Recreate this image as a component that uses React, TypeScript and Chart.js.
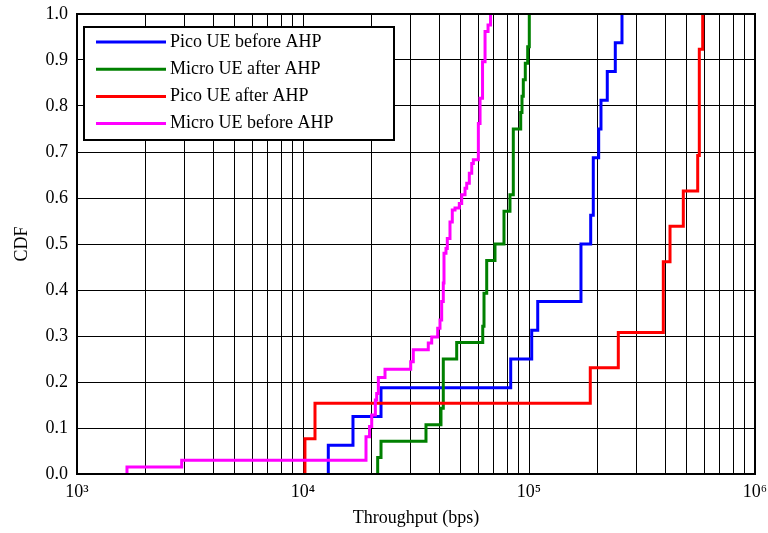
import React, { useEffect, useRef } from 'react';
import { Chart, registerables } from 'chart.js';

Chart.register(...registerables);

// ---- data ----
const seriesLabels = ['Pico UE before AHP', 'Micro UE after AHP', 'Pico UE after AHP', 'Micro UE before AHP'];
const seriesColors = ['#0000ff', '#008000', '#ff0000', '#ff00ff'];

const picoBeforeX = [12940, 12940, 16640, 22140, 82990, 102800, 109300, 169800, 187500, 192500, 203400, 208200, 222000, 240900, 257900];
const picoBeforeY = [0, 0.0625, 0.125, 0.1875, 0.25, 0.3125, 0.375, 0.5, 0.5625, 0.6875, 0.75, 0.8125, 0.875, 0.9375, 1.0];

const microAfterX = [21400, 21400, 22140, 35010, 40790, 41760, 47870, 62420, 63230, 64990, 70720, 77510, 82380, 85220, 91900, 93110, 94360, 96300, 98680, 100300];
const microAfterY = [0, 0.0357, 0.0714, 0.1071, 0.1429, 0.25, 0.2857, 0.3214, 0.3929, 0.4643, 0.5, 0.5714, 0.6071, 0.75, 0.7857, 0.8214, 0.8571, 0.8929, 0.9286, 1.0];

const picoAfterX = [10200, 10200, 11300, 186700, 248400, 392900, 420700, 481700, 557800, 567000, 586900];
const picoAfterY = [0, 0.0769, 0.1538, 0.2308, 0.3077, 0.4615, 0.5385, 0.6154, 0.6923, 0.9231, 1.0];

const microBeforeX = [1664, 1664, 2906, 19000, 19700, 20140, 20900, 21190, 21550, 23060, 29960, 30760, 35840, 37110, 39450, 40380, 41080, 41760, 42060, 42920, 43500, 44710, 45770, 47050, 49160, 50380, 52110, 53020, 54440, 55800, 56710, 59690, 60730, 62290, 63900, 65880, 67570];
const microBeforeY = [0, 0.015, 0.03, 0.081, 0.103, 0.128, 0.161, 0.175, 0.21, 0.2275, 0.244, 0.27, 0.285, 0.298, 0.317, 0.335, 0.375, 0.415, 0.48, 0.49, 0.512, 0.548, 0.574, 0.578, 0.588, 0.607, 0.621, 0.632, 0.654, 0.675, 0.683, 0.762, 0.817, 0.896, 0.962, 0.976, 1.0];

const xMajorTicks = [1e3, 1e4, 1e5, 1e6];
const xMajorLabels = ['10\u00b3', '10\u2074', '10\u2075', '10\u2076'];
const xMinorMultipliers = [2, 3, 4, 5, 6, 7, 8, 9];
const yTickValues = [0, 0.1, 0.2, 0.3, 0.4, 0.5, 0.6, 0.7, 0.8, 0.9, 1.0];
const xTitle = 'Throughput (bps)';
const yTitle = 'CDF';

const FONT = "'Liberation Serif', 'Times New Roman', serif";

const seriesX = [picoBeforeX, microAfterX, picoAfterX, microBeforeX];
const seriesY = [picoBeforeY, microAfterY, picoAfterY, microBeforeY];

function buildXTicks(): number[] {
  const out: number[] = [];
  for (let i = 0; i < xMajorTicks.length; i++) {
    out.push(xMajorTicks[i]);
    if (i < xMajorTicks.length - 1) {
      for (const m of xMinorMultipliers) out.push(m * xMajorTicks[i]);
    }
  }
  return out;
}

const frameAndLegend = {
  id: 'frameAndLegend',
  afterDraw(chart: any) {
    const { ctx, chartArea } = chart;
    ctx.save();
    // plot frame
    ctx.strokeStyle = '#000';
    ctx.lineWidth = 2;
    ctx.strokeRect(chartArea.left, chartArea.top, chartArea.right - chartArea.left, chartArea.bottom - chartArea.top);
    // legend box
    const x0 = chartArea.left + 7;
    const y0 = chartArea.top + 13;
    const w = 310;
    const h = 113;
    ctx.fillStyle = '#fff';
    ctx.fillRect(x0, y0, w, h);
    ctx.strokeRect(x0, y0, w, h);
    ctx.font = `18px ${FONT}`;
    ctx.textBaseline = 'middle';
    ctx.textAlign = 'left';
    chart.data.datasets.forEach((ds: any, i: number) => {
      const y = y0 + 15 + i * 27.2;
      ctx.strokeStyle = ds.borderColor;
      ctx.lineWidth = 3;
      ctx.beginPath();
      ctx.moveTo(x0 + 12, y);
      ctx.lineTo(x0 + 82, y);
      ctx.stroke();
      ctx.fillStyle = '#000';
      ctx.fillText(ds.label, x0 + 86, y);
    });
    ctx.restore();
  },
};

export default function App() {
  const ref = useRef<HTMLCanvasElement>(null);
  useEffect(() => {
    if (!ref.current) return;
    const datasets = seriesLabels.map((label, i) => ({
      label,
      data: seriesX[i].map((x, j) => ({ x, y: seriesY[i][j] })),
      borderColor: seriesColors[i],
      backgroundColor: seriesColors[i],
      borderWidth: 3,
      pointRadius: 0,
      showLine: true,
      stepped: 'before' as const,
      fill: false,
      order: seriesLabels.length - i,
    }));
    const chart = new Chart(ref.current, {
      type: 'scatter',
      data: { datasets },
      plugins: [frameAndLegend],
      options: {
        responsive: false,
        animation: false,
        devicePixelRatio: 1,
        layout: { padding: { left: 0, right: 13, top: 14, bottom: 0 } },
        plugins: { legend: { display: false }, tooltip: { enabled: false } },
        scales: {
          x: {
            type: 'logarithmic',
            min: 1e3,
            max: 1e6,
            afterBuildTicks: (axis: any) => {
              axis.ticks = buildXTicks().map((v) => ({ value: v }));
            },
            afterFit: (axis: any) => {
              axis.height = 59;
              axis.paddingLeft = 0;
              axis.paddingRight = 0;
            },
            grid: { color: '#000', lineWidth: 1, drawTicks: false },
            border: { display: false },
            ticks: {
              autoSkip: false,
              maxRotation: 0,
              padding: 7,
              color: '#000',
              font: { family: FONT, size: 18 },
              callback: (v: any) => {
                const idx = xMajorTicks.indexOf(Number(v));
                return idx >= 0 ? xMajorLabels[idx] : '';
              },
            },
            title: {
              display: true,
              text: xTitle,
              color: '#000',
              font: { family: FONT, size: 18 },
              padding: { top: 0, bottom: 4 },
            },
          },
          y: {
            type: 'linear',
            min: 0,
            max: 1,
            afterBuildTicks: (axis: any) => {
              axis.ticks = yTickValues.map((v) => ({ value: v }));
            },
            afterFit: (axis: any) => {
              axis.width = 77;
              axis.paddingTop = 0;
              axis.paddingBottom = 0;
            },
            grid: { color: '#000', lineWidth: 1, drawTicks: false },
            border: { display: false },
            ticks: {
              padding: 9,
              color: '#000',
              font: { family: FONT, size: 18 },
              callback: (v: any) => Number(v).toFixed(1),
            },
            title: {
              display: true,
              text: yTitle,
              color: '#000',
              font: { family: FONT, size: 18 },
              padding: { top: 11, bottom: 0 },
            },
          },
        },
      },
    });
    return () => chart.destroy();
  }, []);
  return (
    <div style={{ position: 'absolute', left: 0, top: 0, width: 768, height: 533, background: '#fff' }}>
      <canvas ref={ref} width={768} height={533} style={{ display: 'block' }} />
    </div>
  );
}
